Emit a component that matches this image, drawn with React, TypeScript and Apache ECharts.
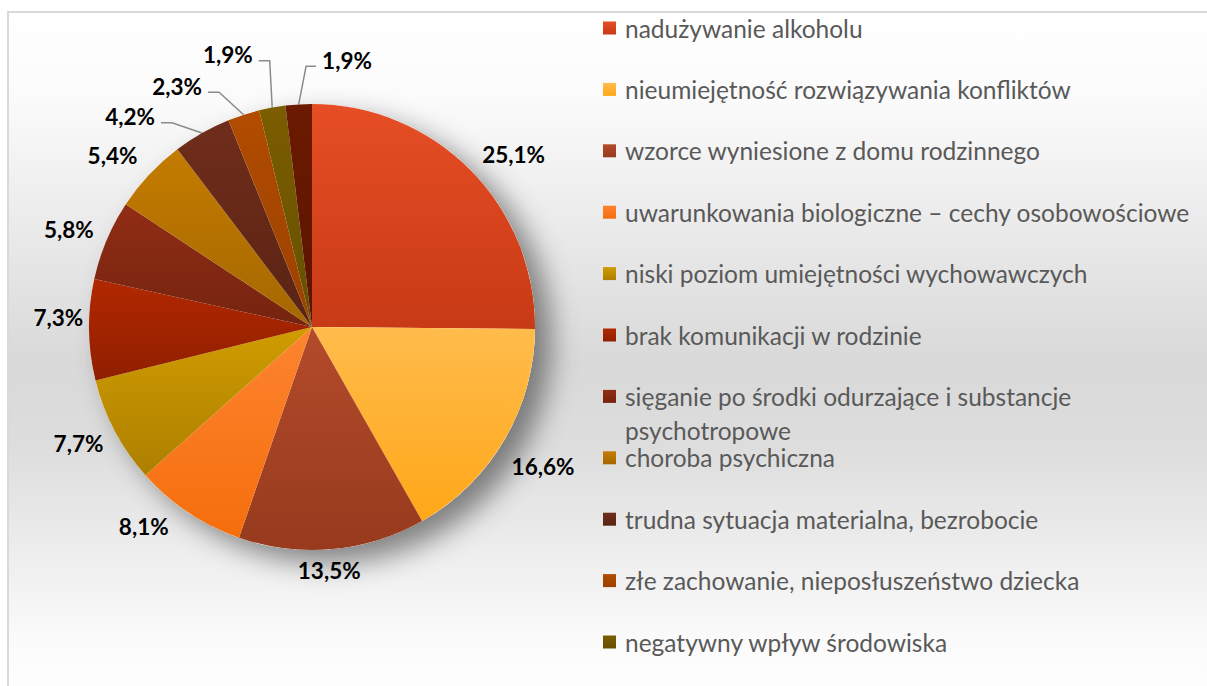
import React, { useEffect, useRef } from 'react';
import * as echarts from 'echarts';

const categories = [
  'nadużywanie alkoholu',
  'nieumiejętność rozwiązywania konfliktów',
  'wzorce wyniesione z domu rodzinnego',
  'uwarunkowania biologiczne – cechy osobowościowe',
  'niski poziom umiejętności wychowawczych',
  'brak komunikacji w rodzinie',
  'sięganie po środki odurzające i substancje psychotropowe',
  'choroba psychiczna',
  'trudna sytuacja materialna, bezrobocie',
  'złe zachowanie, nieposłuszeństwo dziecka',
  'negatywny wpływ środowiska',
  'inne',
];
const values = [25.1, 16.6, 13.5, 8.1, 7.7, 7.3, 5.8, 5.4, 4.2, 2.3, 1.9, 1.9];
const legendCount = 11;

const colorsTop = ['#E64E25', '#FFBC4C', '#B34B2A', '#FD8430', '#D09C00', '#B22800', '#912D14', '#C47C00', '#702D1B', '#B24C00', '#7C5D00', '#6B1A00'];
const colorsBottom = ['#C73A15', '#FFA718', '#973A1E', '#F56E0C', '#AD7F00', '#8F1F00', '#742410', '#A46700', '#5A2313', '#9A4100', '#645000', '#5A1400'];

// layout
const CX = 312;
const CY = 327;
const R = 223;
const GAP = 16;
const calloutIdx = [8, 9, 10, 11];
// [angle shift in degrees, radial shift in px]
const labelTweak: Record<number, [number, number]> = {
  0: [2, 4],
  1: [2.5, 5],
  2: [1.5, -6],
  3: [5, 5],
  5: [3, -10],
  7: [-1, 5],
  8: [-11.3, 55],
  9: [-11.4, 53],
  10: [-6.9, 62],
  11: [10.9, 46],
};

const FONT = 'Lato, "Open Sans", sans-serif';
const LEGEND_FS = 24.5;

export default function App() {
  const ref = useRef<HTMLDivElement>(null);
  useEffect(() => {
    if (!ref.current) return;
    const chart = echarts.init(ref.current, undefined, { renderer: 'svg' });
    const total = values.reduce((a, b) => a + b, 0);
    const mids: number[] = [];
    let acc = 0;
    values.forEach((v) => {
      mids.push(((acc + v / 2) / total) * 360);
      acc += v;
    });
    const grad = (i: number) =>
      new echarts.graphic.LinearGradient(0, 0, 0, 1, [
        { offset: 0, color: colorsTop[i] },
        { offset: 1, color: colorsBottom[i] },
      ]);
    const wrapName = categories[6];
    const cut = wrapName.lastIndexOf(' ');
    const line1 = wrapName.slice(0, cut);
    const line2 = wrapName.slice(cut + 1);

    chart.setOption({
      animation: false,
      graphic: {
        elements: [
          {
            type: 'rect',
            z: -10,
            shape: { x: 8, y: 12, width: 1300, height: 700 },
            style: {
              fill: new echarts.graphic.LinearGradient(0, 0, 0, 1, [
                { offset: 0, color: '#ffffff' },
                { offset: 0.12, color: '#fbfbfb' },
                { offset: 0.5, color: '#d9d9d9' },
                { offset: 0.62, color: '#dddddd' },
                { offset: 0.9, color: '#fbfbfb' },
                { offset: 1, color: '#ffffff' },
              ]),
              stroke: '#d9d9d9',
              lineWidth: 2,
            },
          },
          {
            type: 'text',
            x: 625,
            y: 430,
            style: {
              text: line2,
              fontFamily: FONT,
              fontSize: LEGEND_FS,
              fill: '#595959',
              verticalAlign: 'middle',
              textVerticalAlign: 'middle',
            },
          },
        ],
      },
      legend: {
        orient: 'vertical',
        left: 603,
        top: 14,
        padding: 0,
        itemWidth: 13,
        itemHeight: 13,
        itemGap: 33.4,
        icon: 'rect',
        selectedMode: false,
        data: categories.slice(0, legendCount),
        formatter: (name: string) => (name === wrapName ? line1 : name),
        textStyle: {
          fontFamily: FONT,
          fontSize: LEGEND_FS,
          color: '#595959',
          lineHeight: 28,
          padding: [0, 0, 0, 4],
        },
      },
      series: [
        {
          type: 'pie',
          silent: true,
          z: 1,
          center: [CX, CY],
          radius: R,
          label: { show: false },
          labelLine: { show: false },
          itemStyle: {
            color: '#ffffff',
            shadowBlur: 28,
            shadowOffsetX: 16,
            shadowOffsetY: 13,
            shadowColor: 'rgba(0,0,0,0.45)',
          },
          data: [{ value: 1, name: '__shadow' }],
        },
        {
          type: 'pie',
          z: 2,
          center: [CX, CY],
          radius: R,
          startAngle: 90,
          clockwise: true,
          avoidLabelOverlap: false,
          silent: true,
          label: {
            show: true,
            position: 'outside',
            fontFamily: FONT,
            fontWeight: 'bold',
            fontSize: 22.5,
            color: '#000000',
            formatter: (p: any) => p.value.toFixed(1).replace('.', ',') + '%',
          },
          labelLine: {
            show: true,
            length: 10,
            length2: 10,
            lineStyle: { color: '#8c8c8c', width: 1.5 },
          },
          labelLayout: (p: any) => {
            const i = p.dataIndex;
            const w = p.labelRect.width;
            const h = p.labelRect.height;
            const tw = labelTweak[i] || [0, 0];
            const rad = ((mids[i] + tw[0]) * Math.PI) / 180;
            const s = Math.sin(rad);
            const c = Math.cos(rad);
            if (calloutIdx.indexOf(i) >= 0) {
              const x = CX + s * (R + tw[1]);
              const y = CY - c * (R + tw[1]);
              const m = (mids[i] * Math.PI) / 180;
              const ex = CX + Math.sin(m) * R;
              const ey = CY - Math.cos(m) * R;
              const left = x < ex;
              const tx = left ? x + w / 2 + 6 : x - w / 2 - 6;
              const bx = left ? tx + 11 : tx - 10;
              const ly = y + 6;
              return {
                x,
                y,
                align: 'center',
                verticalAlign: 'middle',
                labelLinePoints: [
                  [ex, ey],
                  [bx, ly],
                  [tx, ly],
                ],
              };
            }
            const rr = R + GAP + tw[1];
            return {
              x: CX + s * rr + (s * w) / 2,
              y: CY - c * rr - (c * h) / 2,
              align: 'center',
              verticalAlign: 'middle',
            };
          },
          itemStyle: { borderWidth: 0 },
          emphasis: { disabled: true },
          data: values.map((v, i) => ({
            value: v,
            name: categories[i],
            itemStyle: { color: grad(i) },
            labelLine: { show: calloutIdx.indexOf(i) >= 0 },
          })),
        },
      ],
    });
    return () => chart.dispose();
  }, []);
  return (
    <div
      ref={ref}
      style={{ position: 'absolute', left: 0, top: 0, width: 1207, height: 686 }}
    />
  );
}
